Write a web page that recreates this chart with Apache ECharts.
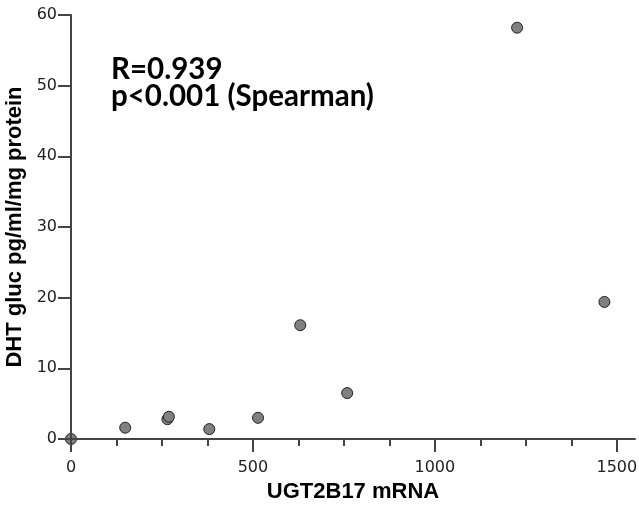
<!DOCTYPE html>
<html>
<head>
<meta charset="utf-8">
<script src="https://cdn.jsdelivr.net/npm/echarts@6/dist/echarts.min.js"></script>
<style>
  html, body { margin: 0; padding: 0; background: #fff; }
  #main { width: 639px; height: 506px; }
</style>
</head>
<body>
<div id="main"></div>
<script>
// UGT2B17 mRNA vs DHT gluc
var mrna = [0, 149, 265, 269, 380, 514, 630, 759, 1226, 1466];
var dhtGluc = [0, 1.6, 2.8, 3.15, 1.4, 3.0, 16.1, 6.5, 58.2, 19.4];

var xMajorTicks = [0, 500, 1000, 1500];
var xMinorTicks = [125, 250, 375, 625, 750, 875, 1125, 1250, 1375];
var yTicks = [0, 10, 20, 30, 40, 50, 60];

var points = mrna.map(function (v, i) { return [v, dhtGluc[i]]; });

var chart = echarts.init(document.getElementById('main'));

var lineStyle = { color: '#444', width: 2 };

var option = {
    animation: false,
    backgroundColor: '#fff',
    title: {
        text: 'R=0.939\np<0.001 (Spearman)',
        left: 111,
        top: 56,
        padding: 0,
        textStyle: {
            fontFamily: 'Lato',
            fontWeight: 'bold',
            fontSize: 29.5,
            lineHeight: 27,
            color: '#000'
        }
    },
    grid: { left: 71, right: 4, top: 15, bottom: 67, outerBoundsMode: 'none' },
    xAxis: [{
        type: 'value',
        z: 3,
        min: 0,
        max: 1550,
        name: 'UGT2B17 mRNA',
        nameLocation: 'middle',
        nameGap: 42,
        nameTextStyle: { fontFamily: 'Liberation Sans', fontWeight: 'bold', fontSize: 22, color: '#000' },
        splitLine: { show: false },
        axisLine: { onZero: false, lineStyle: lineStyle },
        axisTick: { customValues: xMajorTicks, length: 13, lineStyle: lineStyle },
        axisLabel: {
            customValues: xMajorTicks,
            margin: 21,
            fontFamily: 'DejaVu Sans',
            fontSize: 16,
            color: '#222',
            formatter: function (v) { return String(v); }
        }
    }, {
        type: 'value',
        z: 3,
        position: 'bottom',
        min: 0,
        max: 1550,
        splitLine: { show: false },
        axisLine: { show: false, onZero: false },
        axisTick: { customValues: xMinorTicks, length: 7, lineStyle: lineStyle },
        axisLabel: { show: false }
    }],
    yAxis: {
        type: 'value',
        z: 3,
        min: 0,
        max: 60,
        name: 'DHT gluc pg/ml/mg protein',
        nameLocation: 'middle',
        nameGap: 41,
        nameTextStyle: { fontFamily: 'Liberation Sans', fontWeight: 'bold', fontSize: 22, color: '#000' },
        splitLine: { show: false },
        axisLine: { onZero: false, lineStyle: lineStyle },
        axisTick: { customValues: yTicks, length: 13, lineStyle: lineStyle },
        axisLabel: {
            customValues: yTicks,
            margin: 14,
            fontFamily: 'DejaVu Sans',
            fontSize: 16,
            color: '#222'
        }
    },
    series: [{
        type: 'scatter',
        xAxisIndex: 0,
        data: points,
        symbol: 'circle',
        symbolSize: 11,
        itemStyle: { color: '#808080', borderColor: '#222', borderWidth: 1, opacity: 1 }
    }]
};

chart.setOption(option);
</script>
</body>
</html>
